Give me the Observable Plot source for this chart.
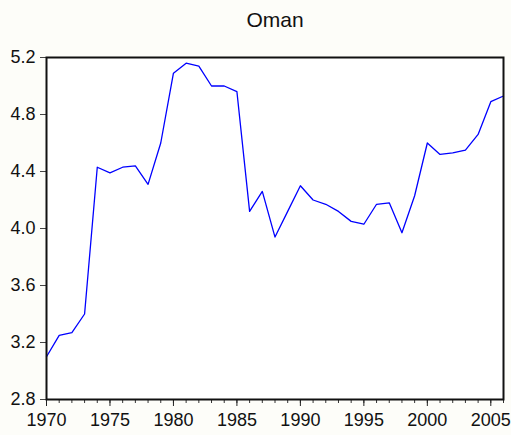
<!DOCTYPE html>
<html>
<head>
<meta charset="utf-8">
<script src="https://cdn.jsdelivr.net/npm/d3@7"></script>
<script src="https://cdn.jsdelivr.net/npm/@observablehq/plot@0.6"></script>
<style>
  html, body { margin: 0; padding: 0; background: #fdfdf9; }
  svg { display: block; }
</style>
</head>
<body>
<div id="chart"></div>
<script>
const title = "Oman";
const years = d3.range(1970, 2007);
const values = [
  3.10, 3.25, 3.27, 3.40, 4.43, 4.39, 4.43, 4.44, 4.31, 4.60,
  5.09, 5.16, 5.14, 5.00, 5.00, 4.96, 4.12, 4.26, 3.94, 4.12,
  4.30, 4.20, 4.17, 4.12, 4.05, 4.03, 4.17, 4.18, 3.97, 4.23,
  4.60, 4.52, 4.53, 4.55, 4.66, 4.89, 4.93
];
const yTicks = [2.8, 3.2, 3.6, 4.0, 4.4, 4.8, 5.2];
const xMajor = [1970, 1975, 1980, 1985, 1990, 1995, 2000, 2005];
const xMinor = years;

const data = years.map((y, i) => ({year: y, value: values[i]}));

const chart = Plot.plot({
  width: 511,
  height: 435,
  marginTop: 57,
  marginBottom: 36,
  marginLeft: 46,
  marginRight: 8,
  style: {fontFamily: "'Liberation Sans', Arial, sans-serif", background: "#fdfdf9", color: "#111"},
  x: {domain: [1970, 2006], axis: null, label: null},
  y: {domain: [2.8, 5.2], axis: null, label: null},
  marks: [
    Plot.rect([0], {x1: 1970, x2: 2006, y1: 2.8, y2: 5.2, fill: "white"}),
    Plot.line(data, {x: "year", y: "value", stroke: "#0000ff", strokeWidth: 1.3}),
    Plot.axisY(yTicks, {label: null, tickSize: 6, tickPadding: 5, tickFormat: d3.format(".1f"), fontSize: 18, stroke: "#444", fill: "#111"}),
    Plot.axisX(xMinor, {label: null, tickSize: 4, tickFormat: () => "", stroke: "#333"}),
    Plot.axisX(xMajor, {label: null, tickSize: 7, tickPadding: 7, tickFormat: d => String(d), fontSize: 18, stroke: "#222", fill: "#111"}),
    Plot.frame({stroke: "#111", strokeWidth: 2}),
    Plot.text([title], {frameAnchor: "top", dy: -37, lineAnchor: "middle", fontSize: 21, fill: "#111"})
  ]
});
document.getElementById("chart").appendChild(chart);
</script>
</body>
</html>
